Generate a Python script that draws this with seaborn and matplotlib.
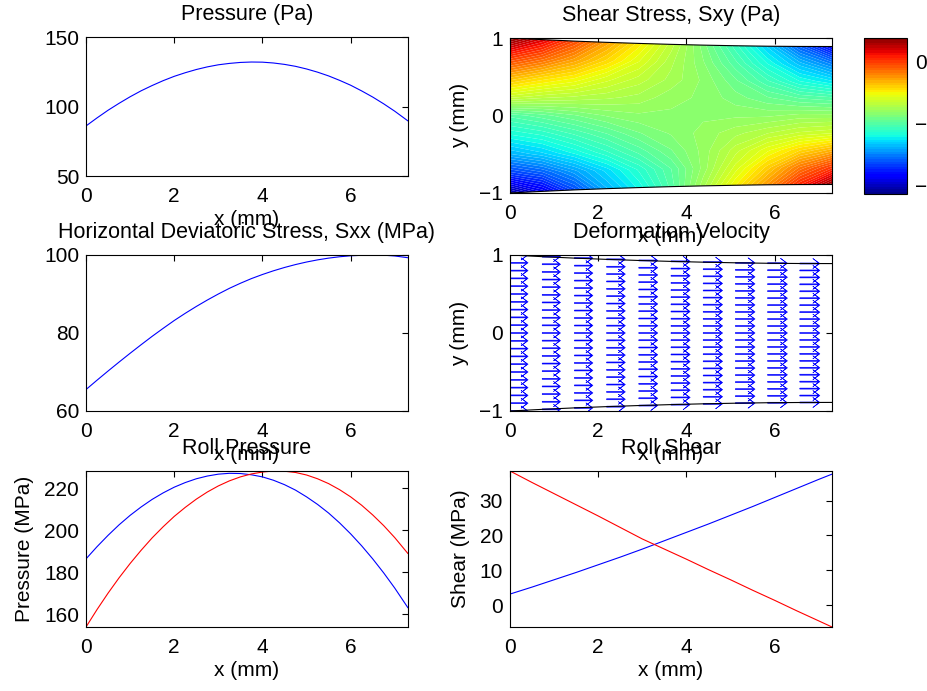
import numpy as np
import matplotlib
matplotlib.use("Agg")
import matplotlib.pyplot as plt
import seaborn as sns

# positions along the roll gap (mm)
x_fine = [0, 0.25, 0.5, 0.75, 1.0, 1.25, 1.5, 1.75, 2.0, 2.25, 2.5, 2.75, 3.0, 3.25, 3.5,
          3.75, 4.0, 4.25, 4.5, 4.75, 5.0, 5.25, 5.5, 5.75, 6.0, 6.25, 6.5, 6.75, 7.0, 7.3]
x_coarse = [0, 0.5, 1.0, 1.5, 2.0, 2.5, 3.0, 3.5, 4.0, 4.5, 5.0, 5.5, 6.0, 6.5, 7.0, 7.3]

pressure_pa = [86.0, 91.8, 97.3, 102.3, 107.0, 111.3, 115.1, 118.6, 121.7, 124.3,
               126.6, 128.5, 130.0, 131.0, 131.7, 132.0, 131.9, 131.3, 130.3, 128.9,
               127.0, 124.7, 122.0, 118.8, 115.3, 111.2, 106.8, 101.9, 96.6, 89.6]
sxx_mpa = [65.5, 67.9, 70.25, 72.55, 74.8, 77.0, 79.15, 81.2, 83.2, 85.05,
           86.8, 88.45, 90.0, 91.45, 92.75, 93.95, 95.0, 95.95, 96.8, 97.55,
           98.2, 98.75, 99.2, 99.55, 99.8, 99.92, 100.0, 99.95, 99.75, 99.3]
roll_p_top = [186.3, 192.1, 197.5, 202.5, 207.0, 211.0, 214.6, 217.7, 220.4, 222.6,
              224.4, 225.7, 226.6, 227.0, 226.9, 226.3, 225.3, 223.7, 221.6, 219.0,
              215.8, 212.2, 208.1, 203.4, 198.2, 192.5, 186.3, 179.6, 172.4, 163.0]
roll_p_bottom = [153.9, 162.2, 170.0, 177.3, 184.1, 190.4, 196.3, 201.6, 206.5, 210.8,
                 214.7, 218.1, 221.0, 223.4, 225.3, 226.7, 227.6, 228.1, 228.0, 227.4,
                 226.2, 224.4, 222.1, 219.2, 215.8, 211.8, 207.2, 202.1, 196.4, 188.8]
roll_s_top = [3.2, 5.2, 7.3, 9.4, 11.6, 13.8, 16.1, 18.5, 20.9, 23.3,
              25.8, 28.3, 30.9, 33.5, 36.1, 37.6]
roll_s_bottom = [38.5, 35.2, 32.0, 28.8, 25.6, 22.3, 19.0, 16.1, 13.2, 10.2,
                 7.3, 4.3, 1.4, -1.6, -4.5, -6.25]

# strip half-thickness (mm) along the gap
gap_x = [0, 0.73, 1.46, 2.19, 2.92, 3.65, 4.38, 5.11, 5.84, 6.57, 7.3]
gap_h = [1.0, 0.979, 0.960, 0.944, 0.930, 0.918, 0.908, 0.900, 0.894, 0.891, 0.890]

# shear stress Sxy (Pa) on rows eta = y/h, top to bottom
sxy_eta = [1.0, 0.75, 0.5, 0.25, 0.0, -0.25, -0.5, -0.75, -1.0]
sxy_p100 = [1.90, 0.90, -0.23, -1.36, -2.37, -3.37, -4.38, -5.38, -6.51, -7.89, -9.14]
sxy_p075 = [0.02, -0.61, -1.36, -2.12, -2.87, -3.62, -4.25, -5.00, -5.88, -6.76, -7.51]
sxy_p050 = [-1.61, -2.12, -2.49, -2.99, -3.37, -3.75, -4.12, -4.63, -5.25, -5.88, -6.26]
sxy_p025 = [-3.12, -3.37, -3.50, -3.62, -3.75, -4.00, -4.12, -4.38, -4.63, -4.88, -5.00]
sxy_000 = [-5.00, -4.75, -4.50, -4.25, -4.12, -4.12, -4.12, -4.12, -4.12, -4.00, -4.00]
sxy_m025 = [-5.88, -5.63, -5.25, -4.88, -4.50, -4.25, -4.00, -3.75, -3.50, -3.25, -3.12]
sxy_m050 = [-6.89, -6.51, -6.01, -5.50, -5.00, -4.50, -4.00, -3.37, -2.74, -2.12, -1.61]
sxy_m075 = [-8.39, -7.89, -7.14, -6.38, -5.63, -4.88, -4.00, -3.00, -1.99, -0.86, 0.02]
sxy_m100 = [-10.40, -9.40, -8.14, -6.89, -6.01, -5.00, -3.75, -2.49, -1.24, 0.27, 1.65]
sxy_range = [-10.65, 1.9]
sxy_ticks = [0, -5, -10]
sxy_ticklabels = ["0", "\u22125", "\u221210"]

# deformation velocity: one column of arrows per station
vel_x = [0, 0.73, 1.46, 2.19, 2.92, 3.65, 4.38, 5.11, 5.84, 6.57]
vel_u = [0.41, 0.415, 0.42, 0.425, 0.43, 0.435, 0.44, 0.445, 0.45, 0.455]
vel_eta = [-1.0, -0.9, -0.8, -0.7, -0.6, -0.5, -0.4, -0.3, -0.2, -0.1, 0.0,
           0.1, 0.2, 0.3, 0.4, 0.5, 0.6, 0.7, 0.8, 0.9, 1.0]

sns.set_style("white")
plt.rcParams["font.family"] = ["Liberation Sans", "DejaVu Sans"]
for key in ["text.color", "axes.labelcolor", "xtick.color", "ytick.color", "axes.edgecolor"]:
    plt.rcParams[key] = "black"
plt.rcParams["axes.linewidth"] = 0.8

FS = 15
W, H = 928, 691


def add_ax(fig, x0, y0, x1, y1):
    return fig.add_axes([x0 / W, (H - y1) / H, (x1 - x0) / W, (y1 - y0) / H])


def style(ax, title, ylabel=None):
    ax.tick_params(direction="in", top=True, right=True, length=4, width=0.8,
                   labelsize=FS, colors="black")
    ax.tick_params(axis="x", pad=8)
    ax.tick_params(axis="y", pad=5)
    for s in ax.spines.values():
        s.set_linewidth(0.8)
        s.set_color("black")
    ax.set_title(title, fontsize=FS + 0.5, pad=12)
    ax.set_xlabel("x (mm)", fontsize=FS, labelpad=3)
    if ylabel:
        ax.set_ylabel(ylabel, fontsize=FS, labelpad=7)
    ax.set_xlim(0, 7.3)
    ax.set_xticks([0, 2, 4, 6])


fig = plt.figure(figsize=(9.28, 6.91), dpi=100)

# Pressure
ax1 = add_ax(fig, 86, 37, 408, 176)
sns.lineplot(x=x_fine, y=pressure_pa, color="blue", linewidth=0.8, ax=ax1)
style(ax1, "Pressure (Pa)")
ax1.set_ylim(50, 150)
ax1.set_yticks([50, 100, 150])

# Shear stress field
ax2 = add_ax(fig, 510, 38, 832, 193)
eta = np.array(sxy_eta)[:, None]
gx = np.array(gap_x)[None, :] * np.ones_like(eta)
gy = eta * np.array(gap_h)[None, :]
sxy = np.array([sxy_p100, sxy_p075, sxy_p050, sxy_p025, sxy_000,
                sxy_m025, sxy_m050, sxy_m075, sxy_m100])
cs = ax2.contourf(gx, gy, sxy, levels=np.linspace(sxy_range[0], sxy_range[1], 64),
                  cmap="jet", antialiased=True)
ax2.plot(gap_x, gap_h, color="black", linewidth=0.8)
ax2.plot(gap_x, [-h for h in gap_h], color="black", linewidth=0.8)
style(ax2, "Shear Stress, Sxy (Pa)", "y (mm)")
ax2.set_ylim(-1, 1)
ax2.set_yticks([-1, 0, 1])
ax2.set_yticklabels(["\u22121", "0", "1"])

cax = add_ax(fig, 864, 38, 907, 194)
cb = fig.colorbar(cs, cax=cax, ticks=sxy_ticks)
cb.ax.set_yticklabels(sxy_ticklabels)
cb.ax.tick_params(direction="in", left=True, right=True, length=4, width=0.8,
                  labelsize=FS, pad=6, colors="black")
cb.outline.set_linewidth(0.8)

# Sxx
ax3 = add_ax(fig, 86, 255, 408, 411)
sns.lineplot(x=x_fine, y=sxx_mpa, color="blue", linewidth=0.8, ax=ax3)
style(ax3, "Horizontal Deviatoric Stress, Sxx (MPa)")
ax3.set_ylim(60, 100)
ax3.set_yticks([60, 80, 100])

# Deformation velocity
ax4 = add_ax(fig, 510, 255, 832, 411)
qx, qe = np.meshgrid(vel_x, vel_eta)
qh = np.array(gap_h[:len(vel_x)])[None, :]
qu = np.array(vel_u)[None, :] * np.ones_like(qe)
ax4.quiver(qx, qe * qh, qu, np.zeros_like(qu), angles="xy", scale_units="xy", scale=1,
           units="dots", width=1.0, headwidth=10, headlength=7, headaxislength=1.5,
           color="blue", linewidth=0.4, edgecolor="blue")
ax4.plot(gap_x, gap_h, color="black", linewidth=0.8)
ax4.plot(gap_x, [-h for h in gap_h], color="black", linewidth=0.8)
style(ax4, "Deformation Velocity", "y (mm)")
ax4.set_ylim(-1, 1)
ax4.set_yticks([-1, 0, 1])
ax4.set_yticklabels(["\u22121", "0", "1"])

# Roll pressure
ax5 = add_ax(fig, 86, 471, 408, 627)
sns.lineplot(x=x_fine, y=roll_p_top, color="blue", linewidth=0.8, ax=ax5)
sns.lineplot(x=x_fine, y=roll_p_bottom, color="red", linewidth=0.8, ax=ax5)
ax5.margins(x=0, y=0)
style(ax5, "Roll Pressure", "Pressure (MPa)")
ax5.set_yticks([160, 180, 200, 220])

# Roll shear
ax6 = add_ax(fig, 510, 471, 832, 627)
sns.lineplot(x=x_coarse, y=roll_s_top, color="blue", linewidth=0.8, ax=ax6)
sns.lineplot(x=x_coarse, y=roll_s_bottom, color="red", linewidth=0.8, ax=ax6)
ax6.margins(x=0, y=0)
style(ax6, "Roll Shear", "Shear (MPa)")
ax6.set_yticks([0, 10, 20, 30])

fig.savefig("out.png", dpi=100)
